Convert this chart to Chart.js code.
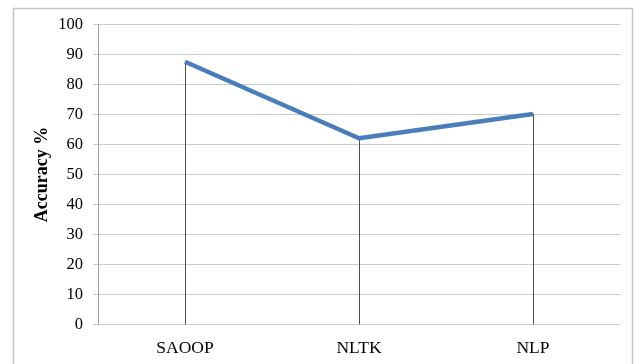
<!DOCTYPE html>
<html>
<head>
<meta charset="utf-8">
<script src="https://cdn.jsdelivr.net/npm/chart.js@4"></script>
<style>
html,body{margin:0;padding:0;background:#fff;}
#wrap{position:relative;width:634px;height:364px;}
</style>
</head>
<body>
<div id="wrap"><canvas id="c" width="634" height="364"></canvas></div>
<script>
const categories = ["SAOOP", "NLTK", "NLP"];
const accuracy = [87.6, 62.1, 70.2];
const yTicks = [0, 10, 20, 30, 40, 50, 60, 70, 80, 90, 100];

const frame = {
  id: 'frame',
  beforeDraw(chart) {
    const ctx = chart.ctx;
    ctx.save();
    ctx.fillStyle = '#ffffff';
    ctx.fillRect(0, 0, chart.width, chart.height);
    ctx.strokeStyle = '#c4c4c4';
    ctx.lineWidth = 1.5;
    ctx.strokeRect(13.5, 8.5, 619, 400);
    ctx.restore();
  }
};

const dropLines = {
  id: 'dropLines',
  beforeDatasetsDraw(chart) {
    const ctx = chart.ctx;
    const meta = chart.getDatasetMeta(0);
    const yBase = chart.scales.y.getPixelForValue(0);
    ctx.save();
    ctx.strokeStyle = '#505050';
    ctx.lineWidth = 1;
    meta.data.forEach(pt => {
      const x = Math.round(pt.x) + 0.5;
      ctx.beginPath();
      ctx.moveTo(x, pt.y);
      ctx.lineTo(x, yBase);
      ctx.stroke();
    });
    ctx.restore();
  }
};

new Chart(document.getElementById('c'), {
  type: 'line',
  data: {
    labels: categories,
    datasets: [{
      data: accuracy,
      borderColor: '#4a7ebb',
      borderWidth: 4.5,
      pointRadius: 0,
      pointHoverRadius: 0,
      tension: 0,
      borderJoinStyle: 'round',
      fill: false
    }]
  },
  options: {
    responsive: false,
    animation: false,
    events: [],
    layout: { padding: { left: 14, right: 14, top: 24.5, bottom: 6 } },
    plugins: { legend: { display: false }, tooltip: { enabled: false } },
    scales: {
      x: {
        offset: true,
        grid: { display: false, drawTicks: false },
        border: { display: false },
        ticks: {
          color: '#000000',
          padding: 13,
          font: { family: 'Liberation Serif', size: 17.5 }
        },
        afterFit(scale) { scale.height = 33.5; }
      },
      y: {
        min: 0,
        max: 100,
        afterBuildTicks(scale) { scale.ticks = yTicks.map(v => ({ value: v })); },
        grid: { color: '#cacaca', lineWidth: 1, tickLength: 5, drawTicks: true },
        border: { display: true, color: '#a0a0a0', width: 1 },
        ticks: {
          color: '#000000',
          padding: 10,
          font: { family: 'Liberation Serif', size: 16.5 }
        },
        title: {
          display: true,
          text: 'Accuracy %',
          color: '#000000',
          padding: { top: 18, bottom: 0 },
          font: { family: 'Liberation Serif', size: 18, weight: 'bold' }
        },
        afterFit(scale) { scale.width = 84; }
      }
    }
  },
  plugins: [frame, dropLines]
});
</script>
</body>
</html>
